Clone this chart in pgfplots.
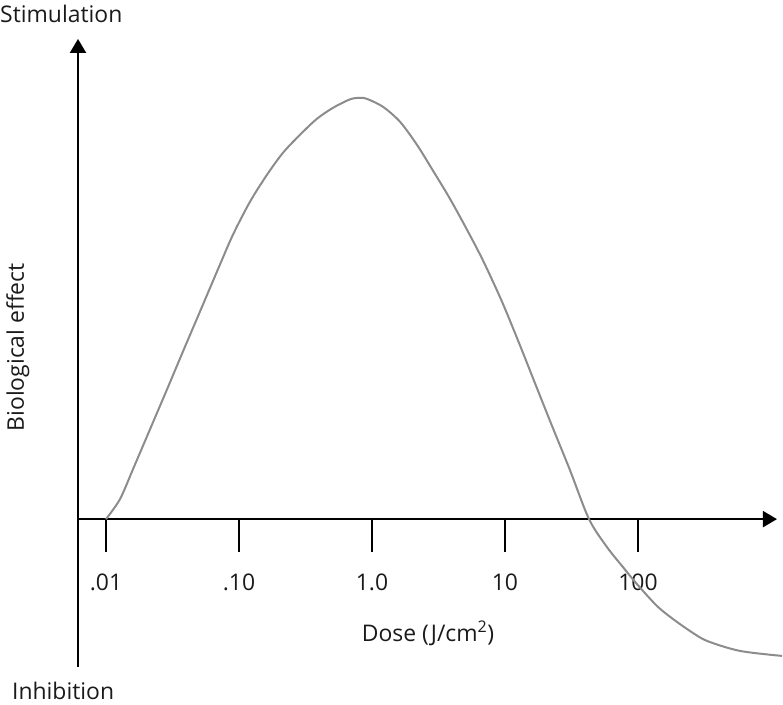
\documentclass[border=0pt]{standalone}
\usepackage{fontspec}
\setmainfont{Open Sans}[Ligatures=NoCommon]
\usepackage{pgfplots}
\pgfplotsset{compat=1.18}
\usetikzlibrary{arrows.meta}
\definecolor{curvegray}{HTML}{8C8C8C}
\definecolor{txt}{HTML}{1A1A1A}
\begin{document}
\fontsize{23}{27}\selectfont
\begin{tikzpicture}
\begin{axis}[
  scale only axis, width=699bp, height=628bp,
  xmin=-2.2105, xmax=3.045, ymin=-148, ymax=481,
  axis x line=middle, axis y line=left,
  x axis line style={line width=2bp, black, -{Triangle[length=14bp,width=16bp]}},
  y axis line style={line width=2bp, black, -{Triangle[length=14bp,width=16bp]}},
  xtick={-2,-1,0,1,2}, xticklabels={.01,.10,1.0,10,100},
  ytick=\empty,
  xtick align=outside, major tick length=33bp,
  xtick style={line width=2bp, black},
  xticklabel style={text=txt, font=\fontsize{23}{27}\selectfont, yshift=-14bp},
  clip=false,
]
\addplot[curvegray, line width=2bp, smooth, tension=0.5] coordinates {
(-2.000,0) (-1.895,20) (-1.797,50) (-1.669,90) (-1.541,130) (-1.421,168)
(-1.293,208) (-1.143,255) (-1.045,285) (-0.917,318) (-0.789,345) (-0.669,367)
(-0.541,385) (-0.414,401) (-0.293,412) (-0.165,420.5) (-0.090,422) (-0.038,421)
(0.083,413) (0.211,398) (0.338,375) (0.459,349) (0.586,321) (0.714,290)
(0.835,259) (0.977,218) (1.113,174) (1.241,131) (1.361,91) (1.489,49)
(1.632,0) (1.767,-28) (1.887,-48) (1.992,-65) (2.143,-87)
(2.263,-100) (2.391,-112) (2.519,-122) (2.767,-132) (3.083,-137)
};
\path (axis cs:-2.797,-186) rectangle (axis cs:3.090,520);
\node[anchor=west, inner sep=0, text=txt] at (axis cs:-2.797,506) {Stimulation};
\node[anchor=west, inner sep=0, text=txt] at (axis cs:-2.707,-172) {Inhibition};
\node[rotate=90, inner sep=0, text=txt] at (axis cs:-2.662,172) {Biological effect};
\node[inner sep=0, text=txt] at (axis cs:0.421,-114) {Dose (J/cm\textsuperscript{2})};
\end{axis}
\end{tikzpicture}
\end{document}
